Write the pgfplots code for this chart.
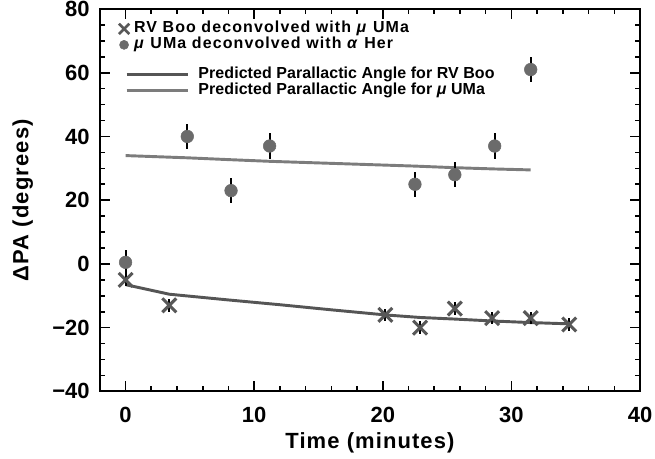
\documentclass[border=0pt]{standalone}
\usepackage{fontspec}
\setmainfont{Liberation Sans}
\newfontfamily\spacedfont[LetterSpace=5]{Liberation Sans}
\newfontfamily\legendfonta[LetterSpace=7]{Liberation Sans}
\newfontfamily\legendfontb[LetterSpace=0.5]{Liberation Sans}
\usepackage{pgfplots}
\pgfplotsset{compat=1.18}

\definecolor{crossgray}{HTML}{585858}
\definecolor{dotgray}{HTML}{6B6B6B}
\definecolor{rvline}{HTML}{555555}
\definecolor{muline}{HTML}{7C7C7C}

\newcommand{\tickfont}{\fontsize{16.5}{18}\selectfont\bfseries}
\newcommand{\labfont}{\spacedfont\fontsize{16.5}{18}\selectfont\bfseries}
\newcommand{\legfonta}{\legendfonta\fontsize{12}{13}\selectfont\bfseries}
\newcommand{\legfontb}{\legendfontb\fontsize{12}{13}\selectfont\bfseries}

\pgfplotsset{
  base/.style={
    scale only axis, width=405.75pt, height=287.25pt,
    xmin=-2, xmax=40, ymin=-40, ymax=80,
  },
  errs/.style={draw=none, mark=none, forget plot,
    error bars/.cd, y dir=both, y explicit,
    error bar style={draw=black, line width=1.5pt}, error mark=none},
  crossleg/.style={legend image code/.code={\path[draw=none] (-4.5pt,0pt) -- (7.5pt,0pt);
    \draw[##1, mark size=5.5pt, line width=2pt] plot coordinates {(0pt,0pt)};}},
  dotleg/.style={legend image code/.code={\path[draw=none] (-4.5pt,0pt) -- (7.5pt,0pt);
    \draw[##1, mark size=3.4pt] plot coordinates {(0pt,0pt)};}},
  lineleg/.style={legend image code/.code={\draw[##1] (0pt,0pt) -- (46.5pt,0pt);
    \path[draw=none] (54pt,0pt);}},
}

\begin{document}
\begin{tikzpicture}
\begin{axis}[
  base,
  xtick={0,10,20,30,40}, minor x tick num=4,
  ytick={-40,-20,0,20,40,60,80}, minor y tick num=3,
  yticklabels={−40,−20,0,20,40,60,80},
  tick align=inside,
  major tick length=7.5pt, minor tick length=4pt,
  every tick/.style={black, line width=1.2pt},
  axis line style={line width=1.5pt},
  ticklabel style={font=\tickfont, inner sep=0pt},
  xticklabel style={anchor=north, yshift=-12pt},
  yticklabel style={anchor=east, xshift=-7.5pt},
  label style={font=\labfont, inner sep=0pt},
  xlabel={Time (minutes)},
  xlabel style={at={([yshift=-42.75pt]rel axis cs:0.5,0)}, anchor=base},
  ylabel={ΔPA (degrees)},
  ylabel style={at={([xshift=-58pt]rel axis cs:0,0.5)}, anchor=center},
  /pgf/number format/assume math mode=true,
  legend style={draw=none, fill=none, font=\legfonta, inner sep=0pt,
    at={(rel axis cs:0,1)}, anchor=north west, xshift=13.5pt, yshift=-9pt,
    row sep=0.5pt, nodes={inner sep=0pt, text height=8.5pt, text depth=3pt}},
  legend cell align=left,
]
% predicted parallactic angle lines
\addplot[rvline, line width=2.2pt, forget plot] coordinates {
  (0,-6.5) (3.4,-9.5) (8,-11.3) (12,-12.8) (16,-14.4) (20.2,-16.0)
  (22.9,-16.8) (25.6,-17.3) (28.5,-17.9) (31.5,-18.4) (34.5,-18.8)};
\addplot[muline, line width=2.2pt, forget plot] coordinates {
  (0,34.0) (4.8,33.3) (8.2,32.7) (11.2,32.2) (22.5,30.7)
  (25.6,30.2) (28.7,29.8) (31.5,29.5)};

% RV Boo
\addplot[only marks, mark=x, mark size=7.4pt, crossgray, line width=2.3pt, crossleg]
  coordinates {
  (0,-5) (3.4,-13) (20.2,-16) (22.9,-20) (25.6,-14) (28.5,-17) (31.5,-17) (34.5,-19)};
\addlegendentry{RV Boo deconvolved with \textit{μ} UMa}
% mu UMa
\addplot[only marks, mark=*, mark size=4.75pt, dotgray, draw=dotgray, dotleg]
  coordinates {
  (0,0.5) (4.8,40) (8.2,23) (11.2,37) (22.5,25) (25.6,28) (28.7,37) (31.5,61)};
\addlegendentry{\textit{μ} UMa deconvolved with \textit{α} Her}

% error bars
\addplot[errs] coordinates {
  (0,-5) +- (0,2) (3.4,-13) +- (0,2) (20.2,-16) +- (0,2) (22.9,-20) +- (0,2)
  (25.6,-14) +- (0,2) (28.5,-17) +- (0,2) (31.5,-17) +- (0,2) (34.5,-19) +- (0,2)};
\addplot[errs] coordinates {
  (0,0.5) +- (0,4) (4.8,40) +- (0,4) (8.2,23) +- (0,4) (11.2,37) +- (0,4)
  (22.5,25) +- (0,4) (25.6,28) +- (0,4) (28.7,37) +- (0,4) (31.5,61) +- (0,4)};
\end{axis}

% second legend for the predicted lines
\begin{axis}[
  base, hide axis,
  legend style={draw=none, fill=none, font=\legfontb, inner sep=0pt,
    at={(rel axis cs:0,1)}, anchor=north west, xshift=18.75pt, yshift=-43.5pt,
    row sep=0.5pt, nodes={inner sep=0pt, text height=8.5pt, text depth=3pt}},
  legend cell align=left,
  lineleg,
]
\addlegendimage{rvline, line width=2.2pt}
\addlegendentry{Predicted Parallactic Angle for RV Boo}
\addlegendimage{muline, line width=2.2pt}
\addlegendentry{Predicted Parallactic Angle for \textit{μ} UMa}
\end{axis}
% page margins matching the reference
\path ([xshift=-75pt,yshift=-50.25pt]current axis.south west);
\path ([xshift=11.25pt,yshift=6.75pt]current axis.north east);
\end{tikzpicture}
\end{document}
